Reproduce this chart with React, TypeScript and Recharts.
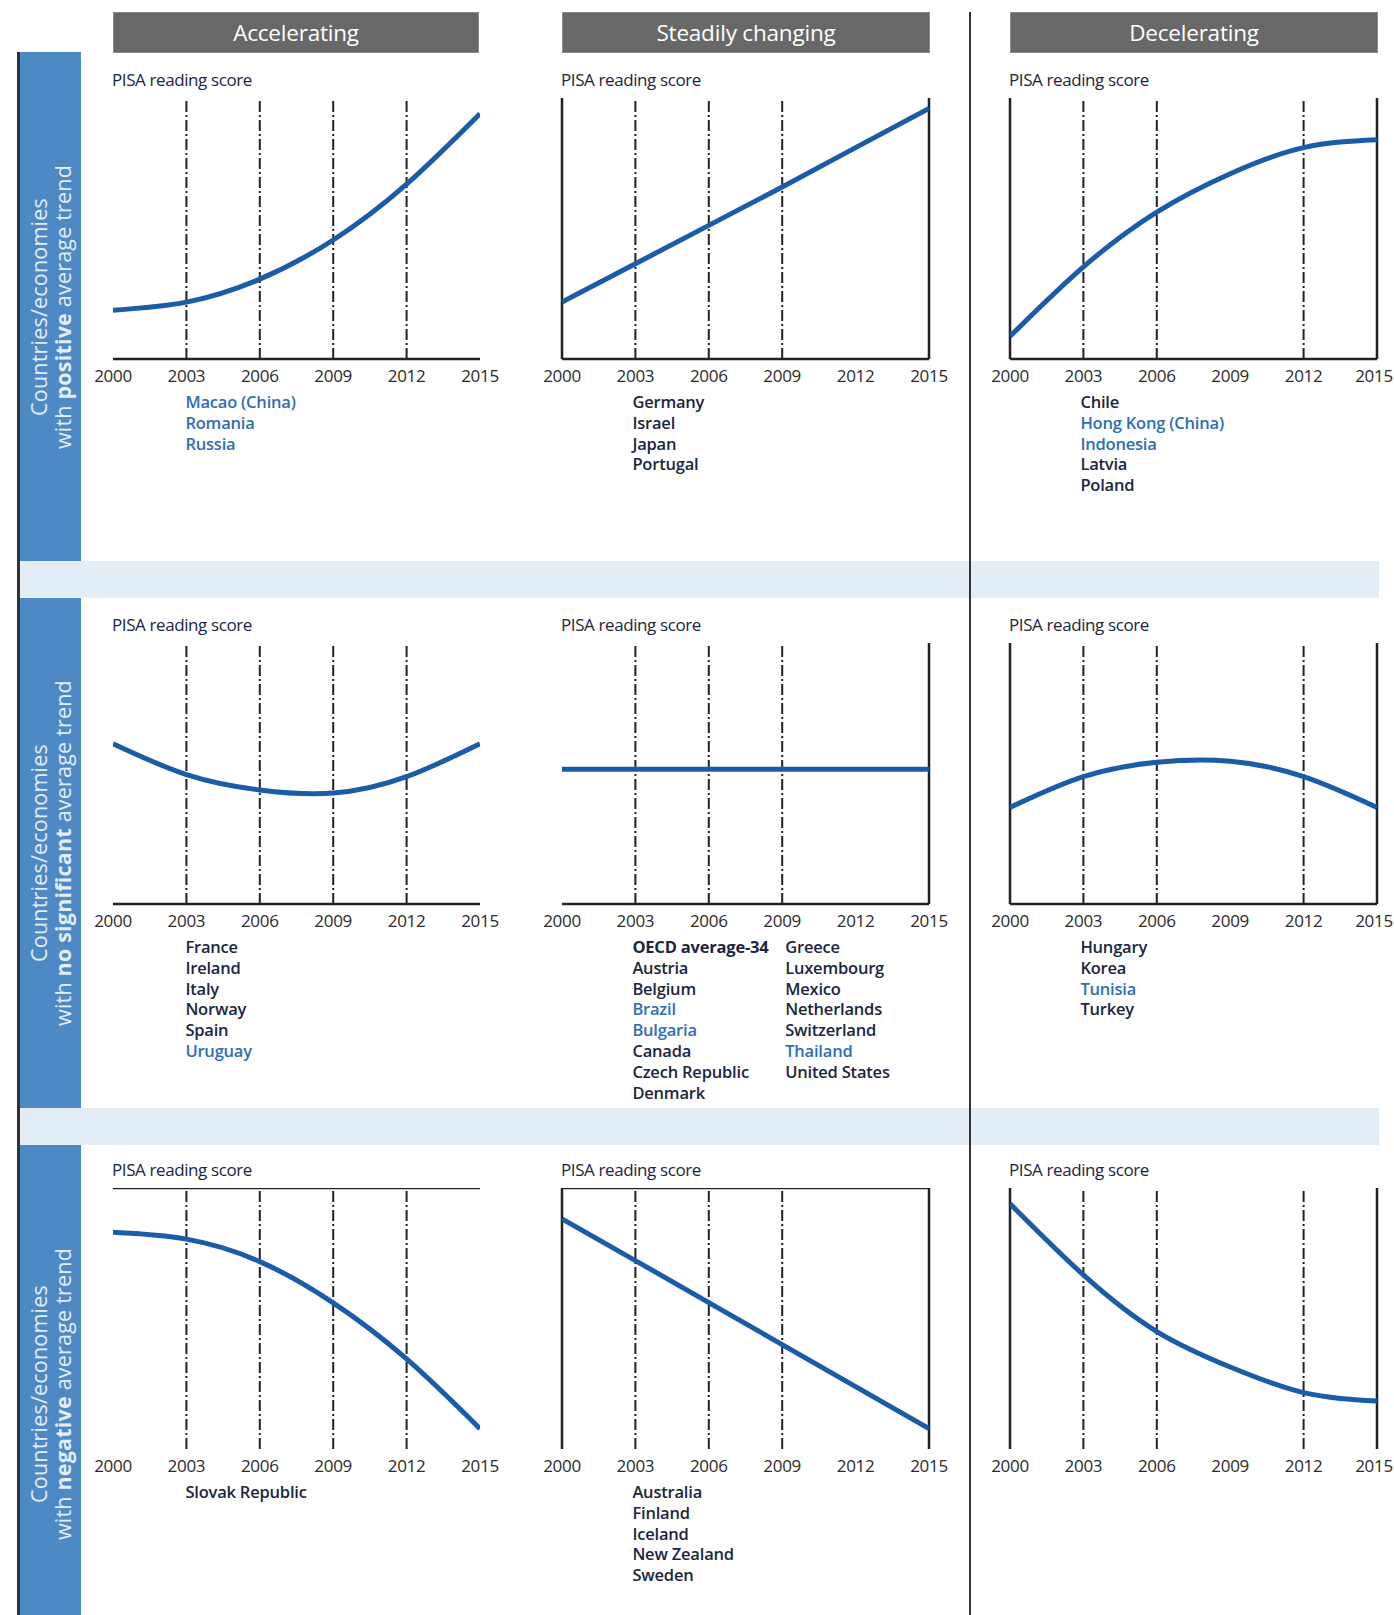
import React from "react";
import { LineChart, Line, XAxis, YAxis, ReferenceLine } from "recharts";

// years on the x axis
const years = [2000, 2003, 2006, 2009, 2012, 2015];

// curve heights, 0 = bottom of the plot, 100 = top
const positiveAccelerating = [18.7, 21.8, 30.6, 45.6, 67, 94];
const positiveSteady = [21.8, 36.5, 51.2, 65.9, 81, 96];
const positiveDecelerating = [8.7, 35.3, 56.3, 71, 81, 84];
const flatAccelerating = [61.4, 49.6, 43.7, 42.5, 48.8, 61.4];
const flatSteady = [51.6, 51.6, 51.6, 51.6, 51.6, 51.6];
const flatDecelerating = [37, 48.8, 54.3, 54.7, 48.8, 37];
const negativeAccelerating = [83, 80.4, 71.8, 56, 34.5, 7.8];
const negativeSteady = [88.2, 72.2, 56.1, 40, 23.9, 7.8];
const negativeDecelerating = [94, 66.7, 45, 31.4, 21.6, 18.4];

const columnTitles = ["Accelerating", "Steadily changing", "Decelerating"];

const rowLabels = [
  { pre: "with ", bold: "positive", post: " average trend" },
  { pre: "with ", bold: "no significant", post: " average trend" },
  { pre: "with ", bold: "negative", post: " average trend" },
];

const countriesPosAcc = ["Macao (China)", "Romania", "Russia"];
const countriesPosSteady = ["Germany", "Israel", "Japan", "Portugal"];
const countriesPosDec = ["Chile", "Hong Kong (China)", "Indonesia", "Latvia", "Poland"];
const countriesFlatAcc = ["France", "Ireland", "Italy", "Norway", "Spain", "Uruguay"];
const countriesFlatSteady = [
  "OECD average-34", "Austria", "Belgium", "Brazil", "Bulgaria", "Canada", "Czech Republic", "Denmark",
  "Greece", "Luxembourg", "Mexico", "Netherlands", "Switzerland", "Thailand", "United States",
];
const countriesFlatDec = ["Hungary", "Korea", "Tunisia", "Turkey"];
const countriesNegAcc = ["Slovak Republic"];
const countriesNegSteady = ["Australia", "Finland", "Iceland", "New Zealand", "Sweden"];
const countriesNegDec: string[] = [];

const partners = ["Macao (China)", "Romania", "Russia", "Hong Kong (China)", "Indonesia", "Uruguay", "Brazil", "Bulgaria", "Thailand", "Tunisia"];

const FONT = "'Open Sans', 'Noto Sans', sans-serif";
const colX = [113, 562, 1010];
const rowTop = [98, 643, 1188];
const PLOT_W = 367;
const PLOT_H = 261;
const PAD = 30;
const AXIS_H = 40;
const YEAR_W = PLOT_W / 5;

const panels = [
  { r: 0, c: 0, values: positiveAccelerating, curve: "natural", grid: [2003, 2006, 2009, 2012], bottom: true, names: countriesPosAcc },
  { r: 0, c: 1, values: positiveSteady, curve: "linear", grid: [2003, 2006, 2009], bottom: true, left: true, right: true, names: countriesPosSteady },
  { r: 0, c: 2, values: positiveDecelerating, curve: "natural", grid: [2003, 2006, 2012], bottom: true, left: true, right: true, names: countriesPosDec },
  { r: 1, c: 0, values: flatAccelerating, curve: "natural", grid: [2003, 2006, 2009, 2012], bottom: true, names: countriesFlatAcc },
  { r: 1, c: 1, values: flatSteady, curve: "linear", grid: [2003, 2006, 2009], bottom: true, right: true, names: countriesFlatSteady, split: 8 },
  { r: 1, c: 2, values: flatDecelerating, curve: "natural", grid: [2003, 2006, 2012], bottom: true, left: true, right: true, names: countriesFlatDec },
  { r: 2, c: 0, values: negativeAccelerating, curve: "natural", grid: [2003, 2006, 2009, 2012], top: true, names: countriesNegAcc },
  { r: 2, c: 1, values: negativeSteady, curve: "linear", grid: [2003, 2006, 2009], top: true, left: true, right: true, names: countriesNegSteady },
  { r: 2, c: 2, values: negativeDecelerating, curve: "natural", grid: [2003, 2006, 2012], left: true, right: true, names: countriesNegDec },
];

const axisStroke = { stroke: "#222", strokeWidth: 2.5 };

function NameList({ names, x, y }: any) {
  return (
    <div style={{ position: "absolute", left: x, top: y, fontFamily: FONT, fontSize: 16.5, lineHeight: "20.8px", letterSpacing: -0.2 }}>
      {names.map((n: string) => (
        <div key={n} style={{ color: partners.includes(n) ? "#2f6db5" : "#1b2540", fontWeight: n.startsWith("OECD") ? 700 : 600, whiteSpace: "nowrap" }}>
          {n}
        </div>
      ))}
    </div>
  );
}

// year tick; the last one in the right column is nudged so it stays on the page
function YearTick({ x, y, payload, edge }: any) {
  const shift = edge && payload.value === 2015 ? -3 : 0;
  return (
    <text x={x + shift} y={y} dy="0.71em" textAnchor="middle" fontSize={17} fill="#2a2a2a" fontFamily={FONT} letterSpacing={-0.3}>
      {payload.value}
    </text>
  );
}

function Panel({ p }: any) {
  const x = colX[p.c];
  const top = rowTop[p.r];
  const data = years.map((year, i) => ({ year, v: p.values[i] }));
  const listTop = top + 294;
  const first = p.split ? p.names.slice(0, p.split) : p.names;
  const second = p.split ? p.names.slice(p.split) : [];
  const listX = x + YEAR_W - (p.c === 0 ? 1 : 3);
  return (
    <>
      <div style={{ position: "absolute", left: x - 1, top: top - 30, fontFamily: FONT, fontSize: 17, color: "#1b2540", letterSpacing: -0.4 }}>
        PISA reading score
      </div>
      <div style={{ position: "absolute", left: x - PAD, top }}>
        <LineChart width={PLOT_W + 2 * PAD} height={PLOT_H + AXIS_H} data={data} margin={{ top: 0, right: PAD, bottom: 0, left: PAD }}>
          <XAxis
            type="number"
            dataKey="year"
            domain={[2000, 2015]}
            ticks={years}
            interval={0}
            allowDataOverflow
            tickLine={false}
            tickSize={0}
            tickMargin={11}
            height={AXIS_H}
            axisLine={p.bottom ? axisStroke : false}
            tick={<YearTick edge={p.c === 2} />}
          />
          <YAxis hide type="number" domain={[0, 100]} allowDataOverflow />
          {p.grid.map((g: number) => (
            <ReferenceLine key={g} x={g} stroke="#222" strokeWidth={2} strokeDasharray="11 3 2 3" />
          ))}
          {p.left && <ReferenceLine x={2000} {...axisStroke} />}
          {p.right && <ReferenceLine x={2015} {...axisStroke} />}
          {p.top && <ReferenceLine y={100} {...axisStroke} />}
          <Line type={p.curve} dataKey="v" stroke="#1a5ca8" strokeWidth={5} dot={false} isAnimationActive={false} />
        </LineChart>
      </div>
      <NameList names={first} x={listX} y={listTop} />
      {second.length > 0 && <NameList names={second} x={x + YEAR_W * 3 + 3} y={listTop} />}
    </>
  );
}

export default function App() {
  const bands = [
    [52, 561],
    [598, 1108],
    [1145, 1615],
  ];
  return (
    <div style={{ position: "absolute", left: 0, top: 0, width: 1394, height: 1615, background: "#fff", overflow: "hidden" }}>
      {/* light blue separators */}
      <div style={{ position: "absolute", left: 19, top: 561, width: 1360, height: 37, background: "#e3edf6" }} />
      <div style={{ position: "absolute", left: 19, top: 1108, width: 1360, height: 37, background: "#e3edf6" }} />
      {/* left dark rule */}
      <div style={{ position: "absolute", left: 17, top: 52, width: 2.5, height: 1563, background: "#333" }} />
      {/* column divider */}
      <div style={{ position: "absolute", left: 969, top: 12, width: 2, height: 1603, background: "#333" }} />

      {bands.map(([a, b], i) => (
        <div key={i} style={{ position: "absolute", left: 19.5, top: a, width: 61.5, height: b - a, background: "#4d89c4" }}>
          <div
            style={{
              position: "absolute",
              left: 31,
              top: (b - a) / 2 + (i === 2 ? 14 : 0),
              transform: "translate(-50%, -50%) rotate(-90deg)",
              whiteSpace: "nowrap",
              textAlign: "center",
              fontFamily: FONT,
              fontSize: 21.5,
              lineHeight: "24px",
              letterSpacing: 0.2,
              color: "#e4edf7",
            }}
          >
            <div>Countries/economies</div>
            <div>
              {rowLabels[i].pre}
              <b>{rowLabels[i].bold}</b>
              {rowLabels[i].post}
            </div>
          </div>
        </div>
      ))}

      {columnTitles.map((t, i) => (
        <div
          key={t}
          style={{
            position: "absolute",
            left: colX[i],
            top: 12,
            width: [366, 368, 368][i],
            height: 41,
            boxSizing: "border-box",
            background: "#686868",
            border: "1px solid #8c8c8c",
            color: "#fff",
            fontFamily: FONT,
            fontSize: 22.5,
            letterSpacing: -0.2,
            display: "flex",
            alignItems: "center",
            justifyContent: "center",
          }}
        >
          {t}
        </div>
      ))}

      {panels.map((p, i) => (
        <Panel key={i} p={p} />
      ))}
    </div>
  );
}
